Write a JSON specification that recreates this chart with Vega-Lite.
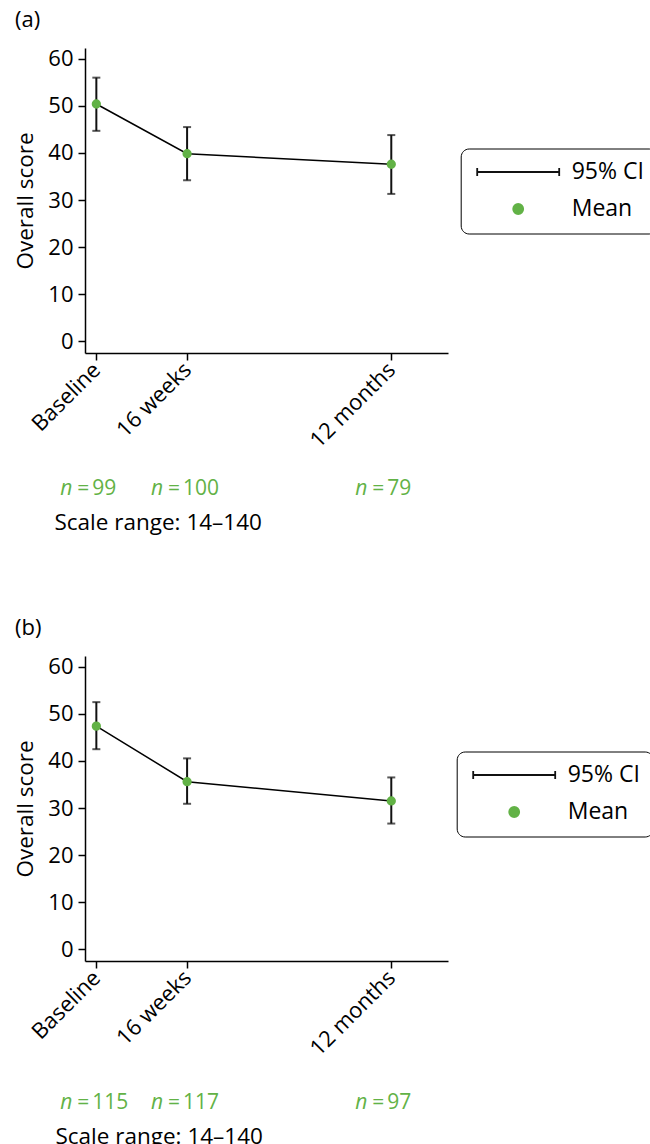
{
  "$schema": "https://vega.github.io/schema/vega-lite/v6.json",
  "padding": {"left": 14, "top": 8, "right": 0, "bottom": 0},
  "spacing": 82,
  "config": {
    "font": "Open Sans",
    "view": {"stroke": null},
    "axis": {"domainColor": "black", "domainWidth": 1.5, "tickColor": "black", "tickWidth": 1.5, "tickSize": 7, "labelColor": "black", "labelFontSize": 22, "labelFont": "Open Sans", "titleFont": "Open Sans", "titleFontSize": 22.5, "titleFontWeight": "normal", "titleColor": "black", "grid": false, "labelPadding": 5}
  },
  "datasets": {
    "a": [
      {"time": "Baseline", "week": 0, "mean": 50.4, "lower": 44.7, "upper": 56.0, "n": 99},
      {"time": "16 weeks", "week": 16, "mean": 39.85, "lower": 34.2, "upper": 45.5, "n": 100},
      {"time": "12 months", "week": 52, "mean": 37.6, "lower": 31.3, "upper": 43.8, "n": 79}
    ],
    "b": [
      {"time": "Baseline", "week": 0, "mean": 47.4, "lower": 42.5, "upper": 52.5, "n": 115},
      {"time": "16 weeks", "week": 16, "mean": 35.6, "lower": 30.9, "upper": 40.55, "n": 117},
      {"time": "12 months", "week": 52, "mean": 31.5, "lower": 26.7, "upper": 36.5, "n": 97}
    ]
  },
  "vconcat": [
    {
      "width": 363, "height": 305,
      "title": {"text": "(a)", "anchor": "start", "frame": "group", "dx": -70, "offset": 16, "fontSize": 22, "fontWeight": "normal", "color": "black", "font": "Open Sans"},
      "data": {"name": "a"},
      "layer": [
        {"mark": {"type": "rule", "color": "#111", "strokeWidth": 2},
         "encoding": {
           "x": {"field": "week", "type": "quantitative", "scale": {"domain": [-2, 62], "nice": false, "zero": false},
                 "axis": {"values": [0, 16, 52], "labelExpr": "datum.value == 0 ? 'Baseline' : datum.value == 16 ? '16 weeks' : '12 months'", "labelAngle": -45, "labelAlign": "right", "labelBaseline": "middle", "labelPadding": 6, "title": "Scale range: 14–140", "titleX": -31, "titleY": 176, "titleAlign": "left", "titleBaseline": "alphabetic", "titleAnchor": "start"}},
           "y": {"field": "lower", "type": "quantitative", "scale": {"domain": [-2.5, 62.3], "nice": false, "zero": false},
                 "axis": {"values": [0, 10, 20, 30, 40, 50, 60], "title": "Overall score", "titlePadding": 10}},
           "y2": {"field": "upper"}
         }},
        {"mark": {"type": "tick", "orient": "horizontal", "size": 8, "thickness": 2, "color": "#111"},
         "encoding": {"x": {"field": "week", "type": "quantitative"}, "y": {"field": "lower", "type": "quantitative"}}},
        {"mark": {"type": "tick", "orient": "horizontal", "size": 8, "thickness": 2, "color": "#111"},
         "encoding": {"x": {"field": "week", "type": "quantitative"}, "y": {"field": "upper", "type": "quantitative"}}},
        {"mark": {"type": "line", "color": "black", "strokeWidth": 1.5},
         "encoding": {"x": {"field": "week", "type": "quantitative"}, "y": {"field": "mean", "type": "quantitative"}}},
        {"mark": {"type": "point", "filled": false, "fill": "#62b246", "fillOpacity": 1, "opacity": 1, "strokeWidth": 1.8, "size": 56},
         "encoding": {
           "x": {"field": "week", "type": "quantitative"},
           "y": {"field": "mean", "type": "quantitative"},
           "color": {"datum": "Mean", "type": "nominal",
             "scale": {"domain": ["95% CI", "Mean"], "range": ["#111111", "#62b246"]},
             "legend": {"title": null, "orient": "none", "legendX": 375.7, "legendY": 100.5, "strokeColor": "black", "cornerRadius": 8, "padding": 12, "symbolSize": 100, "symbolStrokeWidth": 1.8, "labelFontSize": 23, "labelFont": "Open Sans", "labelColor": "black", "labelOffset": 42, "symbolOffset": 34, "rowPadding": 13}},
           "shape": {"datum": "Mean", "type": "nominal",
             "scale": {"domain": ["95% CI", "Mean"], "range": ["M-8.2,0H8.2M-8.2,-0.8V0.8M8.2,-0.8V0.8", "M-1,0A1,1,0,1,1,1,0A1,1,0,1,1,-1,0Z"]},
             "legend": {"title": null, "orient": "none", "legendX": 375.7, "legendY": 100.5, "strokeColor": "black", "cornerRadius": 8, "padding": 12, "symbolSize": 100, "symbolStrokeWidth": 1.8, "labelFontSize": 23, "labelFont": "Open Sans", "labelColor": "black", "labelOffset": 42, "symbolOffset": 34, "rowPadding": 13}}
         }},
        {"mark": {"type": "text", "text": "n", "fontStyle": "italic", "fontSize": 21, "color": "#62b246", "align": "left", "baseline": "alphabetic", "dx": -36},
         "encoding": {"x": {"field": "week", "type": "quantitative"}, "y": {"datum": -32.7, "type": "quantitative"}}},
        {"mark": {"type": "text", "text": "=", "fontSize": 21, "color": "#62b246", "align": "left", "baseline": "alphabetic", "dx": -19},
         "encoding": {"x": {"field": "week", "type": "quantitative"}, "y": {"datum": -32.7, "type": "quantitative"}}},
        {"mark": {"type": "text", "fontSize": 21, "color": "#62b246", "align": "left", "baseline": "alphabetic", "dx": -4},
         "encoding": {"x": {"field": "week", "type": "quantitative"}, "y": {"datum": -32.7, "type": "quantitative"}, "text": {"field": "n", "type": "quantitative"}}}
      ]
    },
    {
      "width": 363, "height": 305,
      "title": {"text": "(b)", "anchor": "start", "frame": "group", "dx": -70, "offset": 16, "fontSize": 22, "fontWeight": "normal", "color": "black", "font": "Open Sans"},
      "data": {"name": "b"},
      "layer": [
        {"mark": {"type": "rule", "color": "#111", "strokeWidth": 2},
         "encoding": {
           "x": {"field": "week", "type": "quantitative", "scale": {"domain": [-2, 62], "nice": false, "zero": false},
                 "axis": {"values": [0, 16, 52], "labelExpr": "datum.value == 0 ? 'Baseline' : datum.value == 16 ? '16 weeks' : '12 months'", "labelAngle": -45, "labelAlign": "right", "labelBaseline": "middle", "labelPadding": 6, "title": "Scale range: 14–140", "titleX": -30, "titleY": 182, "titleAlign": "left", "titleBaseline": "alphabetic", "titleAnchor": "start"}},
           "y": {"field": "lower", "type": "quantitative", "scale": {"domain": [-2.5, 62.3], "nice": false, "zero": false},
                 "axis": {"values": [0, 10, 20, 30, 40, 50, 60], "title": "Overall score", "titlePadding": 10}},
           "y2": {"field": "upper"}
         }},
        {"mark": {"type": "tick", "orient": "horizontal", "size": 8, "thickness": 2, "color": "#111"},
         "encoding": {"x": {"field": "week", "type": "quantitative"}, "y": {"field": "lower", "type": "quantitative"}}},
        {"mark": {"type": "tick", "orient": "horizontal", "size": 8, "thickness": 2, "color": "#111"},
         "encoding": {"x": {"field": "week", "type": "quantitative"}, "y": {"field": "upper", "type": "quantitative"}}},
        {"mark": {"type": "line", "color": "black", "strokeWidth": 1.5},
         "encoding": {"x": {"field": "week", "type": "quantitative"}, "y": {"field": "mean", "type": "quantitative"}}},
        {"mark": {"type": "point", "filled": false, "fill": "#62b246", "fillOpacity": 1, "opacity": 1, "strokeWidth": 1.8, "size": 56},
         "encoding": {
           "x": {"field": "week", "type": "quantitative"},
           "y": {"field": "mean", "type": "quantitative"},
           "color": {"datum": "Mean", "type": "nominal",
             "scale": {"domain": ["95% CI", "Mean"], "range": ["#111111", "#62b246"]},
             "legend": {"title": null, "orient": "none", "legendX": 371.7, "legendY": 95.5, "strokeColor": "black", "cornerRadius": 8, "padding": 12, "symbolSize": 100, "symbolStrokeWidth": 1.8, "labelFontSize": 23, "labelFont": "Open Sans", "labelColor": "black", "labelOffset": 42, "symbolOffset": 34, "rowPadding": 13}},
           "shape": {"datum": "Mean", "type": "nominal",
             "scale": {"domain": ["95% CI", "Mean"], "range": ["M-8.2,0H8.2M-8.2,-0.8V0.8M8.2,-0.8V0.8", "M-1,0A1,1,0,1,1,1,0A1,1,0,1,1,-1,0Z"]},
             "legend": {"title": null, "orient": "none", "legendX": 371.7, "legendY": 95.5, "strokeColor": "black", "cornerRadius": 8, "padding": 12, "symbolSize": 100, "symbolStrokeWidth": 1.8, "labelFontSize": 23, "labelFont": "Open Sans", "labelColor": "black", "labelOffset": 42, "symbolOffset": 34, "rowPadding": 13}}
         }},
        {"mark": {"type": "text", "text": "n", "fontStyle": "italic", "fontSize": 21, "color": "#62b246", "align": "left", "baseline": "alphabetic", "dx": -36},
         "encoding": {"x": {"field": "week", "type": "quantitative"}, "y": {"datum": -33.9, "type": "quantitative"}}},
        {"mark": {"type": "text", "text": "=", "fontSize": 21, "color": "#62b246", "align": "left", "baseline": "alphabetic", "dx": -19},
         "encoding": {"x": {"field": "week", "type": "quantitative"}, "y": {"datum": -33.9, "type": "quantitative"}}},
        {"mark": {"type": "text", "fontSize": 21, "color": "#62b246", "align": "left", "baseline": "alphabetic", "dx": -4},
         "encoding": {"x": {"field": "week", "type": "quantitative"}, "y": {"datum": -33.9, "type": "quantitative"}, "text": {"field": "n", "type": "quantitative"}}}
      ]
    }
  ],
  "resolve": {"scale": {"shape": "independent", "color": "independent"}, "legend": {"shape": "independent", "color": "independent"}}
}
